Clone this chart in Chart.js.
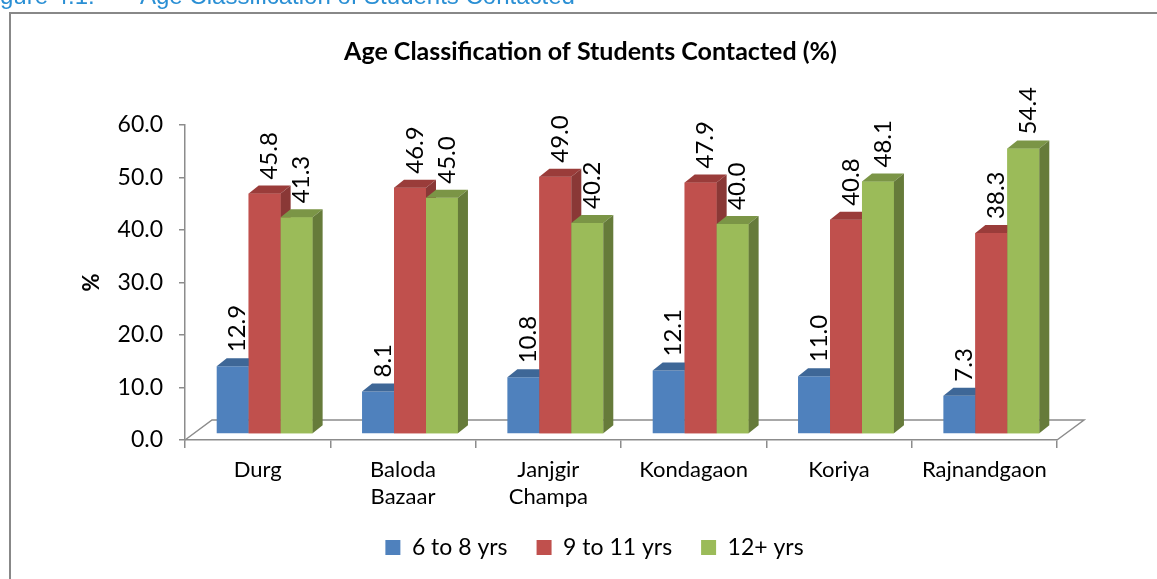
<!DOCTYPE html>
<html>
<head>
<meta charset="utf-8">
<script src="https://cdn.jsdelivr.net/npm/chart.js@4.4.1/dist/chart.umd.min.js"></script>
<style>
    html, body { margin: 0; padding: 0; background: #fff; overflow: hidden; }
    #wrap { width: 1157px; height: 579px; position: relative; }
</style>
</head>
<body>
<div id="wrap"><canvas id="chart"></canvas></div>
<script>
// Data
const districts = [['Durg'], ['Baloda', 'Bazaar'], ['Janjgir', 'Champa'], ['Kondagaon'], ['Koriya'], ['Rajnandgaon']];
const age6to8 = [12.9, 8.1, 10.8, 12.1, 11.0, 7.3];
const age9to11 = [45.8, 46.9, 49.0, 47.9, 40.8, 38.3];
const age12plus = [41.3, 45.0, 40.2, 40.0, 48.1, 54.4];
const seriesNames = ['6 to 8 yrs', '9 to 11 yrs', '12+ yrs'];
const yTickValues = [0, 10, 20, 30, 40, 50, 60];

// Excel-ish 3D palette: front, top, side
const fronts = ['#4f81bd', '#c0504d', '#9bbb59'];
const tops = ['#3e6797', '#9a3c3a', '#7b9546'];
const sides = ['#385d8a', '#8a3836', '#667b3a'];
const axisGrey = '#8c8c8c';

const DX = 10, DY = 8;            // bar top / side depth
const SHIFT_X = 7, SHIFT_Y = -6;  // bars stand a bit behind the floor front edge
const FLOOR_X = 27, FLOOR_Y = -20;

Chart.defaults.font.family = 'Lato, sans-serif';
Chart.defaults.color = '#000';

function poly(ctx, pts, fill) {
    ctx.beginPath();
    ctx.moveTo(pts[0][0], pts[0][1]);
    for (let i = 1; i < pts.length; i++) ctx.lineTo(pts[i][0], pts[i][1]);
    ctx.closePath();
    ctx.fillStyle = fill;
    ctx.fill();
}

const bars3d = {
    id: 'bars3d',
    afterLayout(chart) {
        // title and legend sit centred on the plot rather than the whole canvas
        const shift = (b, dx) => { if (b) { b.left += dx; b.right += dx; } };
        shift(chart.titleBlock, 62);
        shift(chart.legend, 66);
    },
    beforeDraw(chart) {
        const ctx = chart.ctx;
        ctx.save();
        // cropped report caption
        ctx.fillStyle = '#2a8fd4';
        ctx.font = '24px "Liberation Sans", Arial, sans-serif';
        ctx.textBaseline = 'alphabetic';
        ctx.fillText('Figure 4.1:', -20, 4);
        ctx.fillText('Age Classification of Students Contacted', 140, 4);
        // outer frame
        ctx.strokeStyle = '#888';
        ctx.lineWidth = 2;
        ctx.beginPath();
        ctx.moveTo(10, chart.height + 2);
        ctx.lineTo(10, 13);
        ctx.lineTo(chart.width + 2, 13);
        ctx.stroke();
        ctx.restore();
    },
    beforeDatasetsDraw(chart) {
        const ctx = chart.ctx;
        const a = chart.chartArea;
        // floor
        ctx.save();
        ctx.strokeStyle = axisGrey;
        ctx.lineWidth = 1.5;
        ctx.beginPath();
        ctx.moveTo(a.left, a.bottom);
        ctx.lineTo(a.left + FLOOR_X, a.bottom + FLOOR_Y);
        ctx.lineTo(a.right + FLOOR_X, a.bottom + FLOOR_Y);
        ctx.lineTo(a.right, a.bottom);
        ctx.stroke();
        ctx.restore();
        ctx.save();
        ctx.translate(SHIFT_X, SHIFT_Y);
    },
    afterDatasetsDraw(chart) {
        const ctx = chart.ctx;
        const metas = [0, 1, 2].map(i => chart.getDatasetMeta(i));
        metas.forEach((meta, i) => {
            meta.data.forEach(bar => {
                const { x, y, width, base } = bar.getProps(['x', 'y', 'width', 'base'], true);
                const l = x - width / 2, r = x + width / 2;
                poly(ctx, [[l, y], [l + DX, y - DY], [r + DX, y - DY], [r, y]], tops[i]);
                poly(ctx, [[r, y], [r + DX, y - DY], [r + DX, base - DY], [r, base]], sides[i]);
            });
            // next series stands in front of this one's top and side
            if (i < metas.length - 1) metas[i + 1].data.forEach(bar => bar.draw(ctx));
        });
        // value labels, rotated
        ctx.font = '24px Lato, sans-serif';
        ctx.fillStyle = '#000';
        ctx.textAlign = 'left';
        ctx.textBaseline = 'middle';
        metas.forEach((meta, i) => {
            const values = chart.data.datasets[i].data;
            meta.data.forEach((bar, j) => {
                const { x, y } = bar.getProps(['x', 'y'], true);
                ctx.save();
                ctx.translate(x + DX / 2, y - DY - 6);
                ctx.rotate(-Math.PI / 2);
                ctx.fillText(values[j].toFixed(1), 0, 0);
                ctx.restore();
            });
        });
        ctx.restore();
    }
};

const datasets = [age6to8, age9to11, age12plus].map((vals, i) => ({
    label: seriesNames[i],
    data: vals,
    backgroundColor: fronts[i],
    borderWidth: 0,
    categoryPercentage: 0.66,
    barPercentage: 1.0
}));

new Chart(document.getElementById('chart'), {
    type: 'bar',
    data: { labels: districts, datasets: datasets },
    options: {
        responsive: true,
        maintainAspectRatio: false,
        animation: false,
        devicePixelRatio: 1,
        layout: { padding: { left: 0, right: 100, top: 0, bottom: 10 } },
        scales: {
            x: {
                grid: { display: true, drawOnChartArea: false, offset: true, tickLength: 8, color: axisGrey, lineWidth: 1.5 },
                border: { display: true, color: axisGrey, width: 1.5 },
                ticks: { font: { size: 22, lineHeight: 1.2 }, color: '#000', padding: 9, maxRotation: 0, autoSkip: false },
                afterFit: s => { s.height = 67; }
            },
            y: {
                min: 0,
                max: 60,
                afterBuildTicks: s => { s.ticks = yTickValues.map(v => ({ value: v })); },
                grid: { display: true, drawOnChartArea: false, tickLength: 6, color: axisGrey, lineWidth: 1.5 },
                border: { display: true, color: axisGrey, width: 1.5 },
                ticks: { font: { size: 23 }, color: '#000', padding: 16, callback: v => Number(v).toFixed(1) },
                title: { display: true, text: '%', font: { size: 22, weight: 'bold' }, color: '#000', padding: { top: 79, bottom: 0 } },
                afterFit: s => { s.width = 185; }
            }
        },
        plugins: {
            title: {
                display: true,
                text: 'Age Classification of Students Contacted (%)',
                font: { size: 25, weight: 'bold' },
                color: '#000',
                padding: { top: 37, bottom: 58 }
            },
            legend: {
                position: 'bottom',
                labels: { boxWidth: 15, boxHeight: 15, font: { size: 23 }, color: '#000', padding: 29 }
            },
            tooltip: { enabled: false }
        }
    },
    plugins: [bars3d]
});
</script>
</body>
</html>
